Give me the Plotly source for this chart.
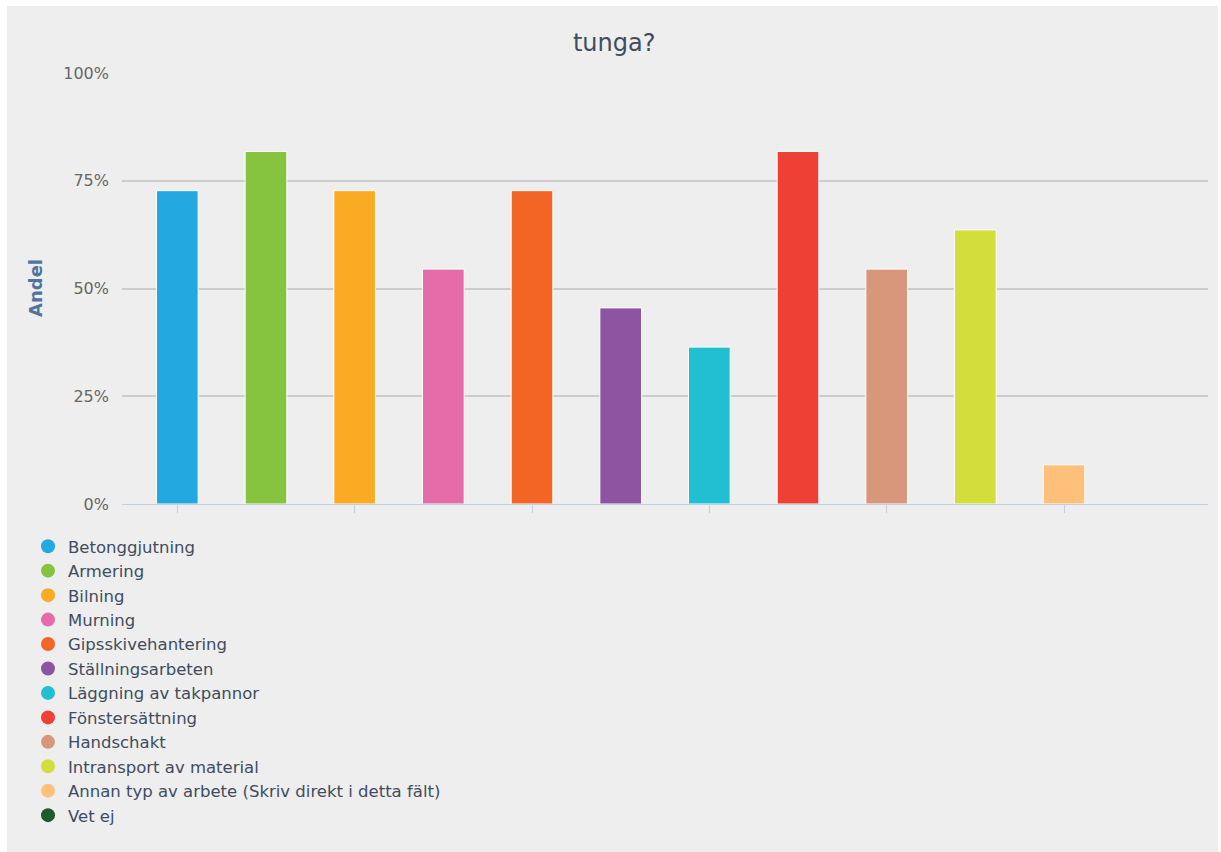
import plotly.graph_objects as go

# Survey answers: share of respondents per type of work
categories = [
    "Betonggjutning",
    "Armering",
    "Bilning",
    "Murning",
    "Gipsskivehantering",
    "Ställningsarbeten",
    "Läggning av takpannor",
    "Fönstersättning",
    "Handschakt",
    "Intransport av material",
    "Annan typ av arbete (Skriv direkt i detta fält)",
    "Vet ej",
]
shares = [0.727, 0.818, 0.727, 0.545, 0.727, 0.455, 0.364, 0.818, 0.545, 0.636, 0.091, 0.0]
colors = [
    "#23a8e0", "#86c440", "#fbaa24", "#e56ba9", "#f26524", "#8d55a1",
    "#20bfd1", "#ee4035", "#d8977a", "#d1de3b", "#fec07b", "#1d5a2c",
]
y_ticks = [0, 0.25, 0.5, 0.75, 1.0]
y_tick_labels = ["0%", "25%", "50%", "75%", "100%"]

W, H = 1221, 852
ML, MR, MT, MB = 122, 13, 73, H - 504
PW, PH = W - ML - MR, H - MT - MB


def px_x(p):
    return (p - ML) / PW


def px_y(p):
    return (H - MB - p) / PH


fig = go.Figure()

for name, val, col in zip(categories, shares, colors):
    fig.add_trace(go.Bar(
        x=[name], y=[val], width=0.47,
        marker=dict(color=col, line=dict(color="white", width=1 if val > 0 else 0)),
        showlegend=False, name=name, hoverinfo="name+y",
    ))

# round legend symbols
for name, col in zip(categories, colors):
    fig.add_trace(go.Scatter(
        x=[None], y=[None], mode="markers", name=name,
        marker=dict(color=col, size=14, symbol="circle"),
        showlegend=True,
    ))

fig.update_layout(
    width=W, height=H,
    margin=dict(l=ML, r=MR, t=MT, b=MB),
    paper_bgcolor="white",
    plot_bgcolor="rgba(0,0,0,0)",
    barmode="overlay",
    font=dict(family="DejaVu Sans", color="#3e4c5e"),
    title=dict(
        text="tunga?", x=0.503, xref="container", xanchor="center",
        y=1 - 43 / H, yref="container", yanchor="middle",
        font=dict(size=24, color="#3e4c5e"),
    ),
    showlegend=True,
    legend=dict(
        x=px_x(28), xanchor="left", y=px_y(529), yanchor="top",
        bgcolor="rgba(0,0,0,0)", font=dict(size=16.5, color="#3e4c5e"),
        itemclick=False, itemdoubleclick=False,
    ),
    shapes=[dict(
        type="rect", xref="paper", yref="paper", layer="below",
        x0=px_x(7), x1=px_x(1218), y0=px_y(H), y1=px_y(6),
        fillcolor="#eeeeee", line=dict(width=0),
    )],
    annotations=[dict(
        text="<b>Andel</b>", textangle=-90, showarrow=False,
        xref="paper", yref="paper", x=px_x(35), y=px_y(288),
        xanchor="center", yanchor="middle",
        font=dict(size=18, color="#4d759e"),
    )],
)

fig.update_xaxes(
    type="category", categoryorder="array", categoryarray=categories,
    range=[-0.624, 11.624], showgrid=False, zeroline=False,
    showticklabels=False, tickmode="array", tickvals=categories[::2],
    ticks="outside", ticklen=8, tickcolor="#c0d0e0", tickwidth=1,
    showline=True, linecolor="#c0d0e0", linewidth=1,
)
fig.update_yaxes(
    range=[0, 1.0], tickmode="array", tickvals=y_ticks, ticktext=y_tick_labels,
    showgrid=True, gridcolor="#cccccc", gridwidth=1.5, zeroline=False,
    tickfont=dict(size=16, color="#666666"), ticklabelstandoff=12,
    showline=False,
)

fig.write_html("out.html")
